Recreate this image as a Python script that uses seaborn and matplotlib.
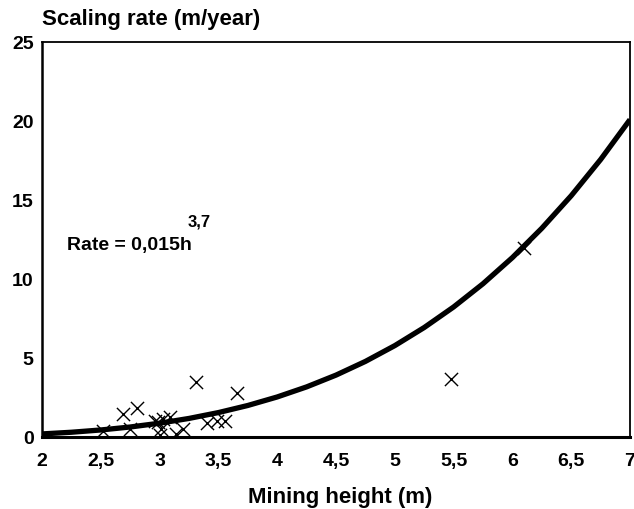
import matplotlib
matplotlib.use("Agg")
import matplotlib.pyplot as plt
import seaborn as sns
import pandas as pd

# Observed points (mining height m, scaling rate m/year)
obs_h = [2.52, 2.69, 2.75, 2.81, 2.96, 2.99, 3.00, 3.01, 3.03, 3.09, 3.14, 3.20,
         3.31, 3.40, 3.49, 3.56, 3.66, 5.48, 6.10]
obs_rate = [0.4, 1.45, 0.5, 1.85, 1.03, 0.93, 0.1, 0.5, 1.14, 1.26, 0.2, 0.5,
            3.45, 0.86, 1.03, 1.03, 2.76, 3.66, 11.98]

# Fitted curve (Rate = 0,015 h^3,7)
fit_h = [2.0, 2.25, 2.5, 2.75, 3.0, 3.25, 3.5, 3.75, 4.0, 4.25, 4.5, 4.75,
         5.0, 5.25, 5.5, 5.75, 6.0, 6.25, 6.5, 6.75, 7.0]
fit_rate = [0.195, 0.301, 0.445, 0.633, 0.874, 1.175, 1.546, 1.995, 2.534, 3.171,
            3.917, 4.784, 5.784, 6.929, 8.229, 9.70, 11.355, 13.21, 15.27, 17.56, 20.09]

x_ticks = [2, 2.5, 3, 3.5, 4, 4.5, 5, 5.5, 6, 6.5, 7]
x_labels = ["2", "2,5", "3", "3,5", "4", "4,5", "5", "5,5", "6", "6,5", "7"]
y_ticks = [0, 5, 10, 15, 20, 25]
y_labels = ["0", "5", "10", "15", "20", "25"]

sns.set_theme(style="white")
plt.rcParams['font.family'] = ['Liberation Sans', 'DejaVu Sans']
plt.rcParams['font.weight'] = 'bold'
plt.rcParams['text.color'] = 'black'
plt.rcParams['axes.labelcolor'] = 'black'
plt.rcParams['xtick.color'] = 'black'
plt.rcParams['ytick.color'] = 'black'

W, H = 634, 510
fig = plt.figure(figsize=(6.34, 5.10), dpi=100)
ax = fig.add_axes([42/W, 1 - 438/H, (630 - 42)/W, (438 - 43)/H])

df_fit = pd.DataFrame({"h": fit_h, "rate": fit_rate})
df_obs = pd.DataFrame({"h": obs_h, "rate": obs_rate})

sns.lineplot(data=df_fit, x="h", y="rate", ax=ax, color="black", linewidth=3.8,
             solid_capstyle="butt", zorder=2)
sns.scatterplot(data=df_obs, x="h", y="rate", ax=ax, marker="x", s=90,
                color="black", linewidth=1.0, zorder=3)

ax.set_xlim(2, 7)
ax.set_ylim(0, 25)
ax.set_xticks(x_ticks)
ax.set_xticklabels(x_labels)
ax.set_yticks(y_ticks)
ax.set_yticklabels(y_labels)
ax.tick_params(axis="both", direction="in", length=6, width=1.0, color="black",
               labelcolor="black", labelsize=14)
ax.tick_params(axis="x", pad=11)
ax.tick_params(axis="y", pad=6)
for lbl in ax.get_xticklabels() + ax.get_yticklabels():
    lbl.set_fontweight("bold")

for s in ax.spines.values():
    s.set_color("black")
    s.set_linewidth(1.3)
ax.spines["bottom"].set_linewidth(2.2)
ax.spines["left"].set_linewidth(1.8)

ax.set_xlabel("")
ax.set_ylabel("")
fig.text(340/W, 1 - 503/H, "Mining height (m)", fontsize=16, fontweight="bold",
         ha="center", va="baseline", color="black")
fig.text(42/W, 1 - 25/H, "Scaling rate (m/year)", fontsize=16, fontweight="bold",
         ha="left", va="baseline", color="black")

ax.text(2.21, 12.18, "Rate = 0,015h", fontsize=14, fontweight="bold",
        ha="left", va="center", color="black")
ax.text(3.24, 13.64, "3,7", fontsize=12, fontweight="bold", ha="left", va="center",
        color="black")

fig.savefig("out.png", dpi=100)
